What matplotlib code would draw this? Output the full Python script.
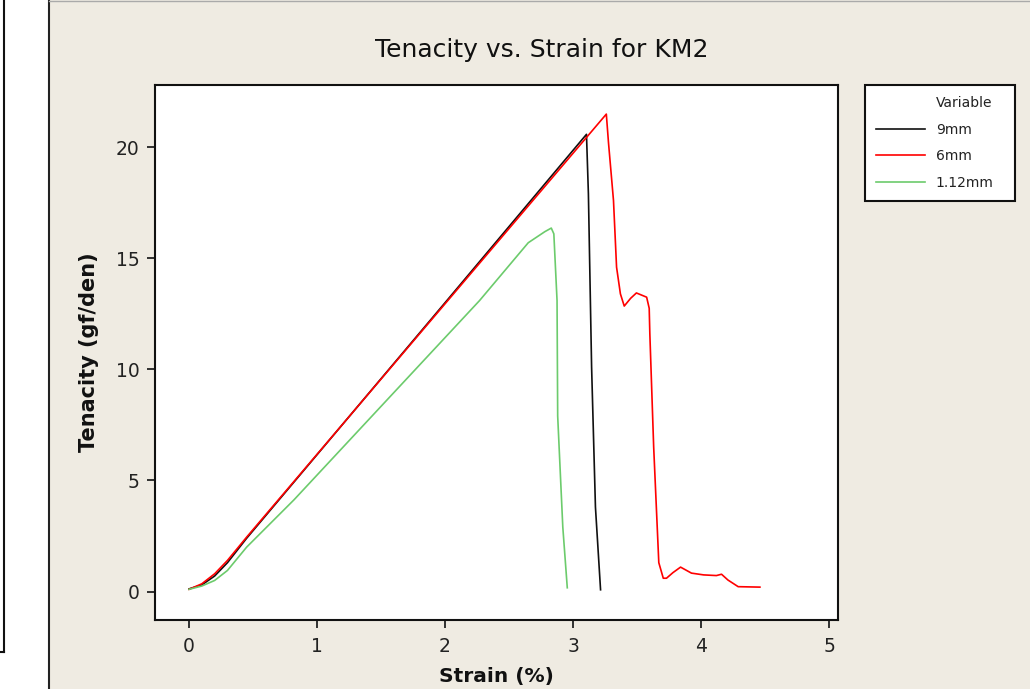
import matplotlib
matplotlib.use("Agg")
import matplotlib.pyplot as plt
from matplotlib.lines import Line2D
from matplotlib.patches import Rectangle

# ---- data ----
strain_9mm = [0.0, 0.1, 0.2, 0.3, 0.45, 2.0, 3.105, 3.12, 3.145, 3.175, 3.215]
ten_9mm = [0.12, 0.3, 0.7, 1.3, 2.4, 13.0, 20.58, 17.9, 10.1, 3.8, 0.08]

strain_6mm = [0.0, 0.1, 0.2, 0.3, 0.45, 3.26, 3.277, 3.316, 3.34, 3.37, 3.40,
              3.45, 3.495, 3.575, 3.595, 3.60, 3.63, 3.67, 3.705, 3.73, 3.78,
              3.84, 3.925, 4.02, 4.12, 4.16, 4.21, 4.29, 4.46]
ten_6mm = [0.1, 0.35, 0.8, 1.4, 2.45, 21.49, 20.2, 17.6, 14.6, 13.4, 12.85,
           13.2, 13.44, 13.25, 12.75, 11.6, 6.5, 1.3, 0.6, 0.6, 0.85,
           1.1, 0.83, 0.75, 0.72, 0.78, 0.52, 0.22, 0.2]

strain_112mm = [0.0, 0.1, 0.2, 0.3, 0.45, 0.82, 2.27, 2.65, 2.78, 2.83, 2.85,
                2.875, 2.88, 2.92, 2.955]
ten_112mm = [0.1, 0.25, 0.5, 0.95, 2.0, 4.13, 13.1, 15.7, 16.2, 16.36, 16.1,
             13.1, 7.9, 2.9, 0.17]

series_labels = ["9mm", "6mm", "1.12mm"]
series_colors = ["#101010", "#FF0000", "#6CCB6C"]
x_ticks = [0, 1, 2, 3, 4, 5]
y_ticks = [0, 5, 10, 15, 20]

title = "Tenacity vs. Strain for KM2"
xlabel = "Strain (%)"
ylabel = "Tenacity (gf/den)"

# ---- figure ----
W, H = 1030, 689
beige = "#EFEBE2"
fig = plt.figure(figsize=(W / 100, H / 100), dpi=100)
fig.patch.set_facecolor(beige)

def fx(px):
    return px / W

def fy(py):
    return 1 - py / H

# left white strip
fig.patches.append(Rectangle((0, 0), fx(49), 1, transform=fig.transFigure,
                             facecolor="white", edgecolor="none", zorder=0))
# panel left border
fig.add_artist(Line2D([fx(49), fx(49)], [0, 1], transform=fig.transFigure,
                      color="#222222", lw=1.5))
# panel top border
fig.add_artist(Line2D([fx(49), 1], [fy(0.5), fy(0.5)], transform=fig.transFigure,
                      color="#AAAAAA", lw=1.0))
# left white strip frame
fig.add_artist(Line2D([fx(3.5), fx(3.5)], [1, fy(652)], transform=fig.transFigure,
                      color="#111111", lw=1.5))
fig.add_artist(Line2D([0, fx(3.5)], [fy(652), fy(652)], transform=fig.transFigure,
                      color="#111111", lw=1.5))

left, right, top, bottom = 155, 838, 85, 620
ax = fig.add_axes([fx(left), fy(bottom), fx(right - left), fy(top) - fy(bottom)])
ax.set_zorder(5)
ax.set_facecolor("white")

l1, = ax.plot(strain_9mm, ten_9mm, color=series_colors[0], lw=1.2, label=series_labels[0])
l2, = ax.plot(strain_6mm, ten_6mm, color=series_colors[1], lw=1.2, label=series_labels[1])
l3, = ax.plot(strain_112mm, ten_112mm, color=series_colors[2], lw=1.2, label=series_labels[2])

ax.set_xlim(-0.266, 5.07)
ax.set_ylim(-1.28, 22.8)
ax.set_xticks(x_ticks)
ax.set_yticks(y_ticks)

for s in ax.spines.values():
    s.set_color("#111111")
    s.set_linewidth(1.5)

ax.tick_params(direction="out", length=6, width=1.3, color="#222222",
               labelsize=13.5, labelcolor="#222222", pad=5)
ax.tick_params(axis="x", pad=6)

ax.set_xlabel(xlabel, fontsize=14.5, fontweight="bold", color="#111111", labelpad=8)
ax.set_ylabel(ylabel, fontsize=15, fontweight="bold", color="#111111", labelpad=12)

fig.text(fx(542), fy(50), title, fontsize=18, ha="center", va="center", color="#111111")

# legend
blank = Line2D([], [], linestyle="none")
leg = fig.legend([blank, l1, l2, l3], ["Variable"] + series_labels,
                 loc="upper left",
                 bbox_to_anchor=(fx(865), fy(198), fx(1015 - 865), fy(85) - fy(198)),
                 mode="expand", fontsize=10, frameon=True, fancybox=False,
                 handlelength=3.5, handletextpad=0.8, borderpad=0.8,
                 labelspacing=0.9, borderaxespad=0)
leg.set_zorder(6)
leg.get_frame().set_edgecolor("#111111")
leg.get_frame().set_linewidth(1.5)
leg.get_frame().set_facecolor("white")
leg.get_frame().set_alpha(1)
for t in leg.get_texts():
    t.set_color("#222222")

fig.savefig("out.png", dpi=100, facecolor=fig.get_facecolor())
